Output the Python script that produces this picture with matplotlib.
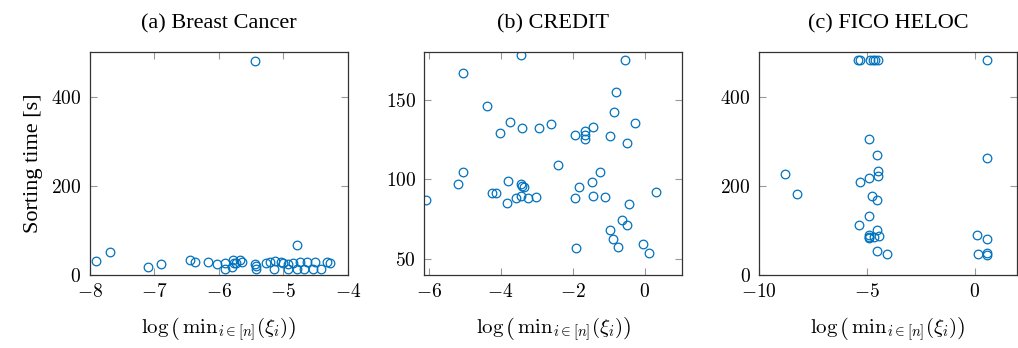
import matplotlib
matplotlib.use("Agg")
import matplotlib.pyplot as plt
from matplotlib.ticker import FuncFormatter

plt.rcParams["font.family"] = ["Liberation Serif", "DejaVu Serif"]
plt.rcParams["mathtext.fontset"] = "cm"

# ─── Data ────────────────────────────────────────────────────────────────
bc_x = [-7.90, -7.68, -7.09, -6.89, -6.44, -6.36, -6.17, -6.03, -5.90, -5.90,
        -5.79, -5.78, -5.76, -5.73, -5.67, -5.64, -5.43, -5.43, -5.42, -5.42,
        -5.27, -5.20, -5.15, -5.12, -5.04, -5.00, -4.92, -4.92, -4.85, -4.79,
        -4.78, -4.74, -4.68, -4.63, -4.54, -4.51, -4.41, -4.32, -4.27]
bc_y = [31, 51, 19, 25, 33, 30, 30, 24, 28, 14,
        19, 33, 28, 28, 33, 30, 480, 25, 20, 14,
        26, 30, 14, 31, 30, 26, 14, 25, 26, 67,
        14, 30, 14, 30, 14, 30, 14, 30, 26]

cr_x = [-6.08, -5.18, -5.05, -5.05, -4.38, -4.24, -4.12, -4.03, -3.82, -3.79,
        -3.75, -3.57, -3.42, -3.41, -3.43, -3.41, -3.35, -3.42, -3.25, -3.02,
        -2.92, -2.60, -2.41, -1.94, -1.92, -1.90, -1.82, -1.66, -1.66, -1.66,
        -1.46, -1.44, -1.44, -1.24, -1.11, -0.97, -0.96, -0.87, -0.85, -0.78,
        -0.74, -0.62, -0.54, -0.50, -0.49, -0.44, -0.26, -0.03, 0.12, 0.31]
cr_y = [86.9, 97.3, 166.7, 104.8, 145.8, 91.7, 91.7, 129.0, 85.4, 99.2,
        136.0, 88.3, 178.1, 132.3, 97.1, 96.0, 95.2, 89.8, 88.3, 89.2,
        132.1, 134.6, 109.2, 127.7, 88.5, 56.9, 95.4, 130.4, 127.9, 125.6,
        98.3, 132.7, 89.6, 104.6, 88.8, 68.3, 127.1, 62.9, 142.3, 154.6,
        57.5, 74.4, 175.0, 71.5, 122.7, 84.8, 135.4, 59.6, 53.8, 92.1]

fi_x = [-8.80, -8.26, -5.36, -5.31, -5.43, -5.31, -4.89, -4.89, -4.89, -4.91,
        -4.91, -4.92, -4.78, -4.84, -4.72, -4.63, -4.49, -4.52, -4.50, -4.50,
        -4.52, -4.52, -4.66, -4.46, -4.52, -4.07, 0.09, 0.14, 0.56, 0.56,
        0.56, 0.57, 0.57]
fi_y = [226, 182, 111, 209, 481, 481, 304, 218, 132, 90,
        86, 82, 178, 481, 481, 481, 481, 268, 233, 221,
        168, 101, 86, 88, 53, 46, 89, 46, 481, 263,
        81, 50, 45]

titles = ["(a) Breast Cancer", "(b) CREDIT", "(c) FICO HELOC"]
xlims = [(-8, -4), (-6.12, 1.05), (-10, 1.96)]
ylims = [(0, 500), (40, 180), (0, 500)]
xticks = [[-8, -7, -6, -5, -4], [-6, -4, -2, 0], [-10, -5, 0]]
yticks = [[0, 200, 400], [50, 100, 150], [0, 200, 400]]

# ─── Figure ──────────────────────────────────────────────────────────────
fig = plt.figure(figsize=(10.18, 3.48), dpi=100)
lefts = [89.7, 424.3, 759.0]
blue = "#0072BD"
mfmt = FuncFormatter(lambda v, p: r"$%g$" % v)

series = [(bc_x, bc_y), (cr_x, cr_y), (fi_x, fi_y)]
for i, (xs, ys) in enumerate(series):
    ax = fig.add_axes([lefts[i] / 1018, 73 / 348, 258 / 1018, 223 / 348])
    ax.plot(xs, ys, linestyle="none", marker="o", markersize=6.2,
            markerfacecolor="none", markeredgecolor=blue, markeredgewidth=0.9)
    ax.set_xlim(*xlims[i])
    ax.set_ylim(*ylims[i])
    ax.set_xticks(xticks[i])
    ax.set_yticks(yticks[i])
    ax.xaxis.set_major_formatter(mfmt)
    ax.yaxis.set_major_formatter(mfmt)
    ax.tick_params(direction="in", length=5, width=0.8, color="#999999",
                   top=True, right=True, labelsize=14, pad=6)
    for s in ax.spines.values():
        s.set_color("#333333")
        s.set_linewidth(0.9)
    ax.set_title(titles[i], fontsize=16, pad=17)
    ax.set_xlabel(r"$\log\left(\,\mathrm{min}_{i\in[n]}(\xi_i)\right)$",
                  fontsize=15, labelpad=10)
    if i == 0:
        ax.set_ylabel("Sorting time [s]", fontsize=16, labelpad=6)

fig.savefig("out.png", dpi=100)
